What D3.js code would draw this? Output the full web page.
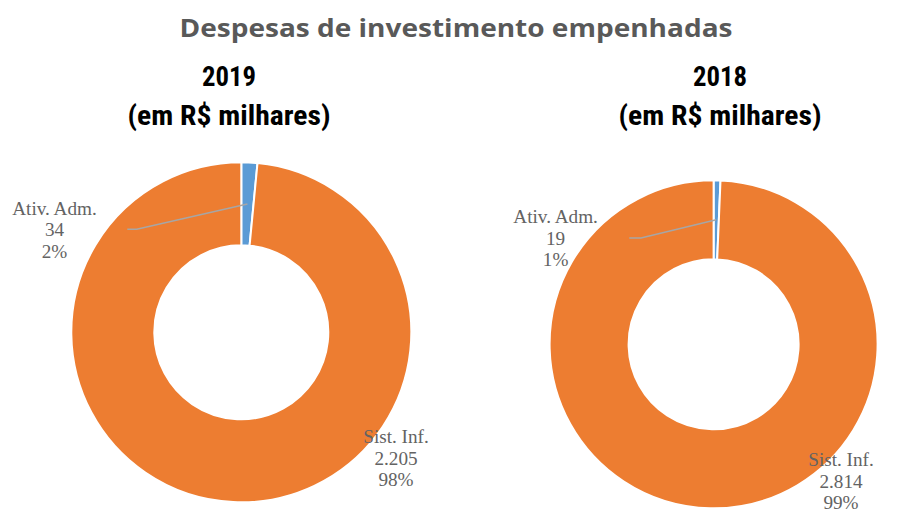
<!DOCTYPE html>
<html>
<head>
<meta charset="utf-8">
<script src="https://cdn.jsdelivr.net/npm/d3@7"></script>
<style>
  body { margin: 0; background: #fff; }
  svg { display: block; }
</style>
</head>
<body>
<div id="chart"></div>
<script>
// data
const categories = ["Ativ. Adm.", "Sist. Inf."];
const values2019 = [34, 2205];
const values2018 = [19, 2814];
const years = ["2019", "2018"];
const colors = ["#5B9BD5", "#ED7D31"];

const width = 908;
const height = 511;

const ptBR = d3.formatLocale({ decimal: ",", thousands: ".", grouping: [3], currency: ["R$", ""] });
const fmtValue = ptBR.format(",d");

const svg = d3.select("#chart")
    .append("svg")
    .attr("width", width)
    .attr("height", height);

// fits a text to a given width
function fitWidth(sel, w) {
    sel.attr("textLength", w).attr("lengthAdjust", "spacingAndGlyphs");
}

svg.append("text")
    .attr("x", 456)
    .attr("y", 37)
    .attr("text-anchor", "middle")
    .style("font-family", "'Open Sans', 'Noto Sans', sans-serif")
    .style("font-weight", "700")
    .style("font-size", "25px")
    .style("fill", "#595959")
    .text("Despesas de investimento empenhadas")
    .call(fitWidth, 553);

// one layout per donut (positions only)
const charts = [
    {
        year: years[0], values: values2019,
        cx: 241.3, cy: 332.3, outer: 170, inner: 87, titleX: 229,
        leader: [[-104.6, -103], [-114, -103]],
        labels: [{ dx: -186.8, dy: -117.3 }, { dx: 154.7, dy: 111 }]
    },
    {
        year: years[1], values: values2018,
        cx: 713.6, cy: 344.3, outer: 164, inner: 85, titleX: 720,
        leader: [[-72.6, -106.3], [-84.3, -106.3]],
        labels: [{ dx: -158, dy: -121 }, { dx: 127.4, dy: 122 }]
    }
];

const pie = d3.pie().sort(null).value(d => d);

charts.forEach((c) => {
    // year + unit
    const head = svg.append("g")
        .style("font-family", "'Liberation Sans Narrow', 'Roboto Condensed', Roboto, sans-serif")
        .style("font-weight", "700")
        .style("font-size", "27px")
        .style("fill", "#000");
    head.append("text")
        .attr("x", c.titleX).attr("y", 86)
        .attr("text-anchor", "middle")
        .text(c.year)
        .call(fitWidth, 54);
    head.append("text")
        .attr("x", c.titleX).attr("y", 125)
        .attr("text-anchor", "middle")
        .text("(em R$ milhares)")
        .call(fitWidth, 203);

    const g = svg.append("g")
        .attr("transform", "translate(" + c.cx + "," + c.cy + ")");

    const arc = d3.arc().innerRadius(c.inner).outerRadius(c.outer);
    const arcs = pie(c.values);
    const total = d3.sum(c.values);

    g.selectAll("path.slice")
        .data(arcs)
        .enter()
        .append("path")
        .attr("class", "slice")
        .attr("d", arc)
        .style("fill", (d, i) => colors[i])
        .style("stroke", "#fff")
        .style("stroke-width", 2);

    // leader line for the small slice
    const start = arc.centroid(arcs[0]);
    g.append("path")
        .attr("d", d3.line()([start, c.leader[0], c.leader[1]]))
        .style("fill", "none")
        .style("stroke", "#A6A6A6")
        .style("stroke-width", 1.5);

    // data labels
    arcs.forEach((a, i) => {
        const pos = c.labels[i];
        const t = g.append("text")
            .attr("text-anchor", "middle")
            .style("font-family", "'Liberation Serif', 'DejaVu Serif', serif")
            .style("font-size", "19.2px")
            .style("fill", "#636363");
        const lines = [categories[i], fmtValue(a.data), Math.round(a.data / total * 100) + "%"];
        lines.forEach((l, k) => {
            t.append("tspan")
                .attr("x", pos.dx)
                .attr("y", pos.dy + k * 21.3)
                .text(l);
        });
    });
});
</script>
</body>
</html>
